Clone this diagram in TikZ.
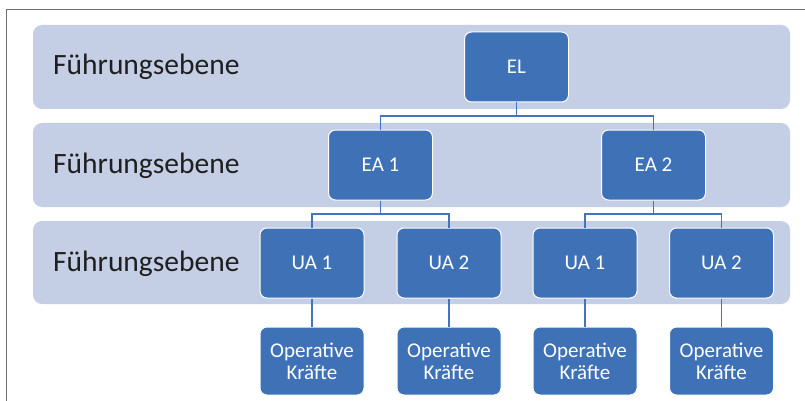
\documentclass[tikz,border=0pt]{standalone}
\usepackage{fontspec}
\setmainfont{Carlito}
\definecolor{bandfill}{HTML}{C4CEE4}
\definecolor{boxblue}{HTML}{3F71B7}
\definecolor{linkblue}{HTML}{4472C4}
\definecolor{framegray}{HTML}{707070}
\begin{document}
\begin{tikzpicture}[x=1pt,y=-1pt,
  band/.style={fill=bandfill, draw=none, rounded corners=9pt},
  lvl/.style={anchor=base west, inner sep=0pt, font=\fontsize{29.5}{32}\selectfont, text=black!88},
  unit/.style={rectangle, rounded corners=7pt, fill=boxblue, draw=white, line width=1pt,
    minimum width=104pt, minimum height=70pt, inner sep=0pt, text=white,
    font=\fontsize{21}{23}\selectfont, align=center},
  opunit/.style={unit, minimum height=68pt},
  conn/.style={draw=linkblue, line width=1.1pt}]
\useasboundingbox (0,0) rectangle (805,401);
\fill[white] (0,0) rectangle (805,401);
% frame (cropped at right and bottom)
\draw[framegray, line width=1.6pt] (6.5,410) -- (6.5,9.5) -- (815,9.5);
% bands
\fill[band] (33,25) rectangle (790,109);
\fill[band] (33,123) rectangle (790,207);
\fill[band] (33,221) rectangle (790,304);
\node[lvl] (l1) at (53,75) {Führungsebene};
\node[lvl] (l2) at (53,173) {Führungsebene};
\node[lvl] (l3) at (53,271) {Führungsebene};
% units
\node[unit] (EL)  at (516.5,67) {EL};
\node[unit] (EA1) at (380.5,165) {EA 1};
\node[unit] (EA2) at (653.5,165) {EA 2};
\node[unit] (UA11) at (312,263) {UA 1};
\node[unit] (UA12) at (449,263) {UA 2};
\node[unit] (UA21) at (585,263) {UA 1};
\node[unit] (UA22) at (721.5,263) {UA 2};
\node[opunit] (OK11) at (312,361) {Operative\\[-1pt]Kräfte};
\node[opunit] (OK12) at (449,361) {Operative\\[-1pt]Kräfte};
\node[opunit] (OK21) at (585,361) {Operative\\[-1pt]Kräfte};
\node[opunit] (OK22) at (721.5,361) {Operative\\[-1pt]Kräfte};
% hubs
\coordinate (h0) at (516.5,116);
\coordinate (h1) at (380.5,214);
\coordinate (h2) at (653.5,214);
% connectors
\draw[conn] (EL.south) -- (h0);
\draw[conn] (EA1.north) |- (h0) -| (EA2.north);
\draw[conn] (EA1.south) -- (h1);
\draw[conn] (UA11.north) |- (h1) -| (UA12.north);
\draw[conn] (EA2.south) -- (h2);
\draw[conn] (UA21.north) |- (h2) -| (UA22.north);
\draw[conn] (UA11.south) -- (OK11.north);
\draw[conn] (UA12.south) -- (OK12.north);
\draw[conn] (UA21.south) -- (OK21.north);
\draw[conn] (UA22.south) -- (OK22.north);
\end{tikzpicture}
\end{document}
